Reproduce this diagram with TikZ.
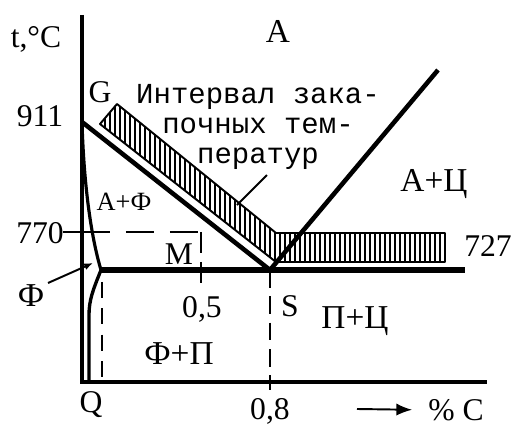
\documentclass[tikz,border=0pt]{standalone}
\usepackage{fontspec}
\setmainfont{Liberation Serif}
\newfontfamily\notefont{Liberation Mono}
\usetikzlibrary{arrows.meta}

\begin{document}
\begin{tikzpicture}[x=0.02cm,y=-0.02cm,>={Latex[length=9pt,width=7pt]},
  thk/.style={line width=2.6pt},
  thn/.style={line width=1.1pt},
  dsh/.style={line width=1.4pt,dash pattern=on 16pt off 9pt},
  num/.style={font=\fontsize{18}{20}\selectfont,inner sep=0pt},
  reg/.style={font=\fontsize{19}{22}\selectfont,inner sep=0pt},
  pnt/.style={font=\fontsize{18}{20}\selectfont,inner sep=0pt}]
  \useasboundingbox (0,0) rectangle (512,426);
  % key points (pixel grid of the picture)
  \coordinate (O) at (82,382);
  \coordinate (ytop) at (82,15);
  \coordinate (xend) at (487,382);
  \coordinate (G) at (82,122);
  \coordinate (P) at (101,270);
  \coordinate (S) at (270,270);
  \coordinate (K) at (465,270);
  \coordinate (E) at (438,70);
  \coordinate (Q) at (89,382);
  \coordinate (m770) at (201,232);
  % hatched interval of quenching temperatures
  \coordinate (h1) at (100,124); \coordinate (h2) at (117,104);
  \coordinate (h3) at (276,233); \coordinate (h4) at (445,233);
  \coordinate (h5) at (445,262); \coordinate (h6) at (276,262);
  \begin{scope}
    \clip (h1) -- (h2) -- (h3) -- (h4) -- (h5) -- (h6) -- cycle;
    \foreach \x in {100,105,...,445} \draw[line width=1.3pt] (\x,100) -- (\x,266);
  \end{scope}
  \draw[thn,line join=round] (h1) -- (h2) -- (h3) -- (h4) -- (h5) -- (h6) -- cycle;
  % axes
  \draw[line width=2.3pt] (ytop) -- (O) -- (xend);
  % phase lines
  \draw[thk] (G) -- (S);
  \draw[line width=3.2pt] (P) -- (K);
  \draw[thk] (S) -- (E);
  \draw[line width=1.8pt] (G) .. controls (84,190) and (92,240) .. (P);
  \draw[line width=1.9pt] (P) .. controls (93,290) and (89,300) .. (89,315) -- (Q);
  % dashed guides
  \draw[thn] (63,232) -- (82,232);
  \draw[dsh] (82,232) -- (m770);
  \draw[dsh,dash pattern=on 12pt off 5pt] (m770) -- (201,287);
  \draw[dsh,dash pattern=on 10pt off 5pt] (S) -- (270,390);
  \draw[dsh,dash pattern=on 9pt off 6pt] (102,282) -- (102,380);
  % labels
  \node[num] (tC) at (36,39) {t,°C};
  \node[reg] (aus) at (278,31) {А};
  \node[pnt] (lG) at (100,92) {G};
  \node[num] (t911) at (40,116) {911};
  \node[num] (t770) at (40,233) {770};
  \node[num] (t727) at (488,246) {727};
  \node[num] (c05) at (202,309) {0,5};
  \node[num] (c08) at (270,411) {0,8};
  \node[pnt] (lM) at (179,254) {M};
  \node[pnt] (lS) at (290,306) {S};
  \node[pnt] (lQ) at (91,405) {Q};
  \node[font=\fontsize{15}{17}\selectfont,inner sep=0pt] (af) at (124,202) {А+Ф};
  \node[reg] (ac) at (434,184) {А+Ц};
  \node[reg] (fp) at (179,354) {Ф+П};
  \node[reg] (pc) at (355,321) {П+Ц};
  \node[reg] (fer) at (31,296) {Ф};
  \node[font=\notefont\fontsize{16.5}{17}\selectfont,align=center,inner sep=0pt]
    (note) at (258,127) {Интервал зака-\\почных тем-\\ператур};
  % leaders and the carbon arrow
  \coordinate (n1) at (267,175); \coordinate (n2) at (237,205);
  \draw[thn] (n1) -- (n2);
  \coordinate (fend) at (93,263);
  \draw[thn,-{Latex[length=5pt,width=4pt]}] (48,283) -- (fend);
  \node[num] (pcC) at (456,410) {\% C};
  \coordinate (a1) at (357,409);
  \draw[thn,->,shorten >=9pt] (a1) -- (pcC.west);
\end{tikzpicture}
\end{document}
